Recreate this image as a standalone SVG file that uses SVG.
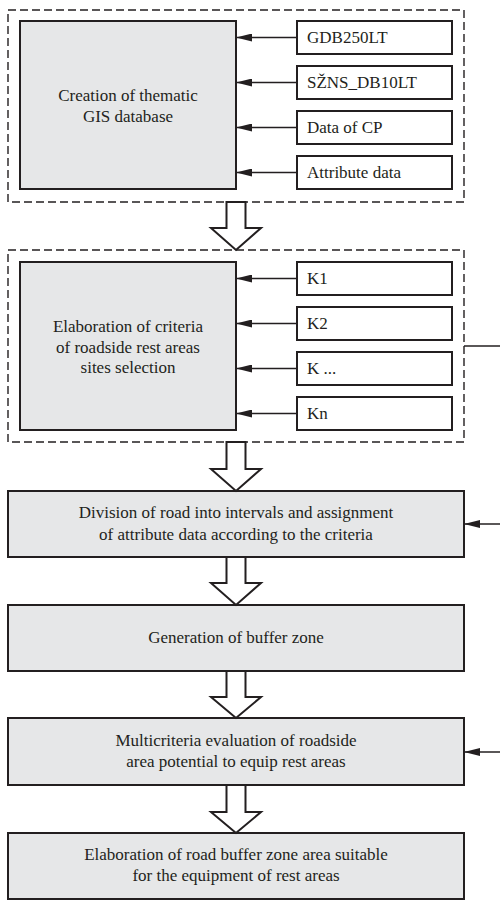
<svg xmlns="http://www.w3.org/2000/svg" width="500" height="901" viewBox="0 0 500 901">
<defs>
<style>
.main{fill:#e6e7e8;stroke:#231f20;stroke-width:2}
.src{fill:#fff;stroke:#231f20;stroke-width:2}
.dash{fill:none;stroke:#231f20;stroke-width:1.4;stroke-dasharray:8 4}
.ln{stroke:#231f20;stroke-width:1.5;fill:none}
.big{fill:#fff;stroke:#231f20;stroke-width:2;stroke-linejoin:miter}
text{font-family:"Liberation Serif","Times New Roman",serif;font-size:17px;fill:#231f20}
.c{text-anchor:middle}
</style>
<marker id="ah" viewBox="0 0 16 8" refX="16" refY="4" markerWidth="16" markerHeight="8" markerUnits="userSpaceOnUse" orient="auto">
<path d="M0,0 L16,4 L0,8 Z" fill="#231f20"/>
</marker>
</defs>

<g id="group1">
<rect class="dash" x="8" y="10" width="456" height="192"/>
</g>
<g id="group2">
<rect class="dash" x="8" y="250" width="456" height="192"/>
</g>

<g id="n-creation">
<rect class="main" x="20" y="21" width="216" height="168"/>
<text class="c" x="128" y="101">Creation of thematic</text>
<text class="c" x="128" y="122">GIS database</text>
</g>
<g id="n-gdb"><rect class="src" x="297" y="21" width="155" height="33"/><text x="307" y="43">GDB250LT</text></g>
<g id="n-szns"><rect class="src" x="297" y="66" width="155" height="33"/><text x="307" y="88">SŽNS_DB10LT</text></g>
<g id="n-cp"><rect class="src" x="297" y="111" width="155" height="33"/><text x="307" y="133">Data of CP</text></g>
<g id="n-attr"><rect class="src" x="297" y="156" width="155" height="33"/><text x="307" y="178">Attribute data</text></g>

<g id="n-criteria">
<rect class="main" x="20" y="262" width="216" height="168"/>
<text class="c" x="128" y="332">Elaboration of criteria</text>
<text class="c" x="128" y="353">of roadside rest areas</text>
<text class="c" x="128" y="373">sites selection</text>
</g>
<g id="n-k1"><rect class="src" x="297" y="262" width="155" height="33"/><text x="307" y="284">K1</text></g>
<g id="n-k2"><rect class="src" x="297" y="307" width="155" height="33"/><text x="307" y="329">K2</text></g>
<g id="n-kdots"><rect class="src" x="297" y="352" width="155" height="33"/><text x="307" y="374">K ...</text></g>
<g id="n-kn"><rect class="src" x="297" y="397" width="155" height="33"/><text x="307" y="419">Kn</text></g>

<g id="n-division">
<rect class="main" x="8" y="491" width="456" height="66"/>
<text class="c" x="236" y="518">Division of road into intervals and assignment</text>
<text class="c" x="236" y="540">of attribute data according to the criteria</text>
</g>
<g id="n-buffer">
<rect class="main" x="8" y="605" width="456" height="66"/>
<text class="c" x="236" y="643">Generation of buffer zone</text>
</g>
<g id="n-multi">
<rect class="main" x="8" y="718" width="456" height="67"/>
<text class="c" x="236" y="746">Multicriteria evaluation of roadside</text>
<text class="c" x="236" y="767">area potential to equip rest areas</text>
</g>
<g id="n-final">
<rect class="main" x="8" y="833" width="456" height="66"/>
<text class="c" x="236" y="860">Elaboration of road buffer zone area suitable</text>
<text class="c" x="236" y="881">for the equipment of rest areas</text>
</g>

<g id="connectors">
<line class="ln" x1="297" y1="37.5" x2="236" y2="37.5" marker-end="url(#ah)"/>
<line class="ln" x1="297" y1="82.5" x2="236" y2="82.5" marker-end="url(#ah)"/>
<line class="ln" x1="297" y1="127.5" x2="236" y2="127.5" marker-end="url(#ah)"/>
<line class="ln" x1="297" y1="172.5" x2="236" y2="172.5" marker-end="url(#ah)"/>
<line class="ln" x1="297" y1="278.5" x2="236" y2="278.5" marker-end="url(#ah)"/>
<line class="ln" x1="297" y1="323.5" x2="236" y2="323.5" marker-end="url(#ah)"/>
<line class="ln" x1="297" y1="368.5" x2="236" y2="368.5" marker-end="url(#ah)"/>
<line class="ln" x1="297" y1="413.5" x2="236" y2="413.5" marker-end="url(#ah)"/>
<line class="ln" x1="464" y1="346" x2="500" y2="346"/>
<line class="ln" x1="500" y1="524" x2="464" y2="524" marker-end="url(#ah)"/>
<line class="ln" x1="500" y1="752" x2="464" y2="752" marker-end="url(#ah)"/>
<path class="big" d="M226.5,202 H245.5 V228 H261 L236,250 L211,228 H226.5 Z"/>
<path class="big" d="M226.5,442 H245.5 V469 H261 L236,491 L211,469 H226.5 Z"/>
<path class="big" d="M226.5,557 H245.5 V583 H261 L236,605 L211,583 H226.5 Z"/>
<path class="big" d="M226.5,671 H245.5 V697 H261 L236,718 L211,697 H226.5 Z"/>
<path class="big" d="M226.5,785 H245.5 V812 H261 L236,833 L211,812 H226.5 Z"/>
</g>
</svg>
